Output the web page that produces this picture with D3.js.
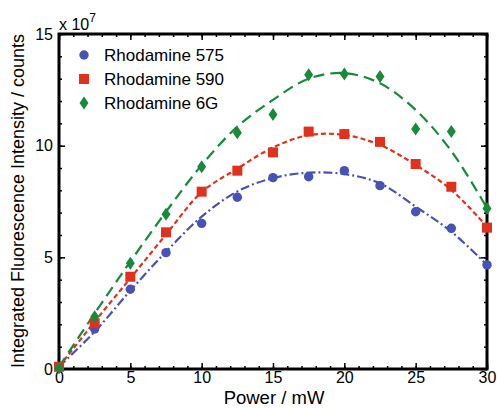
<!DOCTYPE html>
<html>
<head>
<meta charset="utf-8">
<script src="https://cdn.jsdelivr.net/npm/d3@7"></script>
<style>
  body { margin: 0; background: #fff; }
  svg { display: block; font-family: "Liberation Sans", Arial, Helvetica, sans-serif; }
</style>
</head>
<body>
<svg id="chart" width="497" height="408"></svg>
<script>
// ---- Data (intensity in units of 1e7 counts) ----
const power = [0, 2.5, 5, 7.5, 10, 12.5, 15, 17.5, 20, 22.5, 25, 27.5, 30];
const rhodamine575 = [0.1, 1.79, 3.57, 5.21, 6.52, 7.69, 8.57, 8.61, 8.88, 8.21, 7.04, 6.30, 4.66];
const rhodamine590 = [0.1, 2.05, 4.13, 6.12, 7.94, 8.88, 9.70, 10.63, 10.52, 10.17, 9.18, 8.16, 6.33];
const rhodamine6G  = [0.05, 2.34, 4.73, 6.93, 9.06, 10.58, 11.40, 13.17, 13.21, 13.10, 10.75, 10.63, 7.19];

// fitted curves at the same powers
const fit575 = [0.1, 1.67, 3.51, 5.25, 6.82, 7.95, 8.55, 8.79, 8.73, 8.31, 7.27, 6.15, 4.66];
const fit590 = [0.1, 2.12, 4.06, 6.02, 7.92, 8.97, 9.92, 10.47, 10.48, 10.03, 9.14, 8.02, 6.37];
const fit6G  = [0.1, 2.49, 4.81, 7.04, 9.13, 10.85, 12.05, 13.0, 13.25, 12.79, 11.6, 9.76, 7.2];

const seriesNames = ["Rhodamine 575", "Rhodamine 590", "Rhodamine 6G"];
const xTicks = [0, 5, 10, 15, 20, 25, 30];
const yTicks = [0, 5, 10, 15];

// ---- Layout ----
const svg = d3.select("#chart");
const x = d3.scaleLinear().domain([0, 30]).range([59, 487]);
const y = d3.scaleLinear().domain([0, 15]).range([369, 34]);

const colors = ["#4852b4", "#e0311c", "#178a3b"];
const dashes = ["9,3,2,3", "5,3", "11,6"];
const values = [rhodamine575, rhodamine590, rhodamine6G];
const fits = [fit575, fit590, fit6G];

// fit lines
const line = d3.line().x(d => x(d[0])).y(d => y(d[1])).curve(d3.curveCatmullRom.alpha(0.5));
fits.forEach((f, i) => {
  svg.append("path")
    .datum(power.map((p, j) => [p, f[j]]))
    .attr("d", line)
    .attr("fill", "none")
    .attr("stroke", colors[i])
    .attr("stroke-width", 2.2)
    .attr("stroke-dasharray", dashes[i]);
});

// axes frame with inward ticks
const frame = svg.append("g");
const minorX = d3.range(0, 31, 1);
const minorY = d3.range(0, 16, 1);

const ax = [
  d3.axisBottom(x).tickValues(minorX).tickSize(-3).tickFormat(""),
  d3.axisTop(x).tickValues(minorX).tickSize(-3).tickFormat(""),
  d3.axisLeft(y).tickValues(minorY).tickSize(-3).tickFormat(""),
  d3.axisRight(y).tickValues(minorY).tickSize(-3).tickFormat("")
];
const transforms = ["translate(0,369)", "translate(0,34)", "translate(59,0)", "translate(487,0)"];
ax.forEach((a, i) => {
  const g = frame.append("g").attr("transform", transforms[i]).call(a);
  g.select(".domain").remove();
  g.selectAll("line").attr("stroke", "#000").attr("stroke-width", 1.5);
});
const axMajor = [
  d3.axisBottom(x).tickValues(xTicks).tickSize(-6).tickPadding(3).tickFormat(d3.format("d")),
  d3.axisTop(x).tickValues(xTicks).tickSize(-6).tickFormat(""),
  d3.axisLeft(y).tickValues(yTicks).tickSize(-6).tickPadding(6).tickFormat(d3.format("d")),
  d3.axisRight(y).tickValues(yTicks).tickSize(-6).tickFormat("")
];
axMajor.forEach((a, i) => {
  const g = frame.append("g").attr("transform", transforms[i]).call(a);
  g.select(".domain").remove();
  g.selectAll("line").attr("stroke", "#000").attr("stroke-width", 1.5);
  g.selectAll("text").attr("fill", "#000").attr("font-size", 16)
    .attr("font-family", "Liberation Sans, Arial, sans-serif");
});
frame.append("rect")
  .attr("x", x(0)).attr("y", y(15))
  .attr("width", x(30) - x(0)).attr("height", y(0) - y(15))
  .attr("fill", "none").attr("stroke", "#000").attr("stroke-width", 3);

// markers
const sym = [d3.symbolCircle, d3.symbolSquare, d3.symbolDiamond];
const symSize = [70, 100, 70];
function marker(g, i) {
  if (i === 2) {
    g.append("path").attr("d", "M0,-6.5L4.5,0L0,6.5L-4.5,0Z").attr("fill", colors[i]);
  } else {
    g.append("path").attr("d", d3.symbol(sym[i], symSize[i])()).attr("fill", colors[i]);
  }
}
values.forEach((vals, i) => {
  power.forEach((p, j) => {
    const g = svg.append("g").attr("transform", `translate(${x(p)},${y(vals[j])})`);
    marker(g, i);
  });
});

// legend
seriesNames.forEach((name, i) => {
  const yy = 55 + i * 24;
  const g = svg.append("g").attr("transform", `translate(84,${yy})`);
  marker(g, i);
  svg.append("text").attr("x", 104).attr("y", yy + 6)
    .attr("font-size", 17).attr("fill", "#000").text(name);
});

// exponent label
const ex = svg.append("text").attr("x", 59).attr("y", 30).attr("font-size", 16).attr("fill", "#000");
ex.append("tspan").text("x 10");
ex.append("tspan").attr("dy", -8).attr("font-size", 12).text("7");

// axis titles
svg.append("text").attr("x", 274).attr("y", 404).attr("text-anchor", "middle")
  .attr("font-size", 18.5).attr("fill", "#000").text("Power / mW");
svg.append("text").attr("transform", "translate(24,201) rotate(-90)").attr("text-anchor", "middle")
  .attr("font-size", 18).attr("fill", "#000").text("Integrated Fluorescence Intensity / counts");
</script>
</body>
</html>
